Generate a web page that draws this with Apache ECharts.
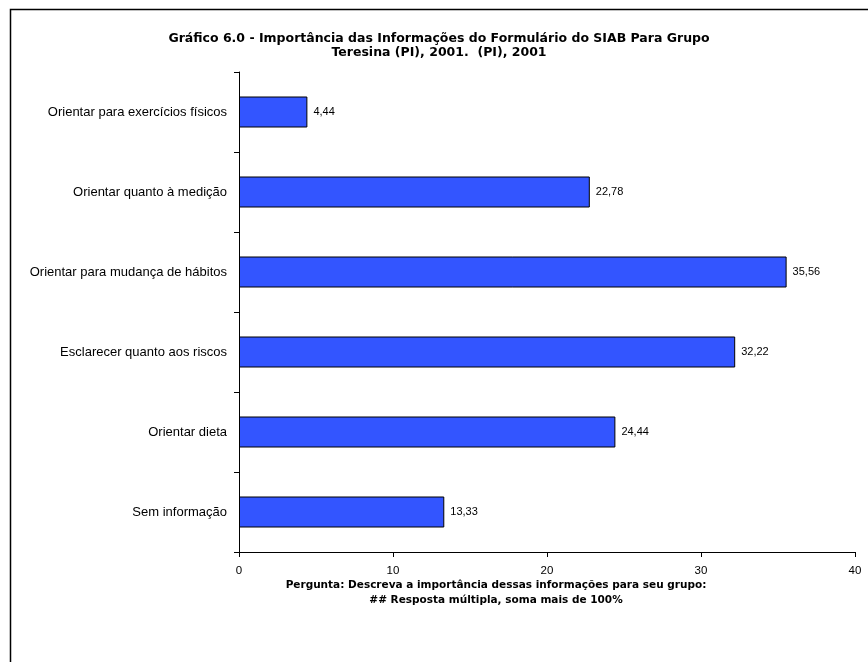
<!DOCTYPE html>
<html>
<head>
<meta charset="utf-8">
<script src="https://cdn.jsdelivr.net/npm/echarts@6/dist/echarts.min.js"></script>
<style>
  html, body { margin: 0; padding: 0; background: #fff; }
  #chart { width: 868px; height: 662px; }
</style>
</head>
<body>
<div id="chart"></div>
<script>
// Categories listed top to bottom
const categories = [
  'Orientar para exercícios físicos',
  'Orientar quanto à medição',
  'Orientar para mudança de hábitos',
  'Esclarecer quanto aos riscos',
  'Orientar dieta',
  'Sem informação'
];
const values = [4.44, 22.78, 35.56, 32.22, 24.44, 13.33];
const xTicks = { min: 0, max: 40, interval: 10 };

const titleLines = [
  'Gráfico 6.0 - Importância das Informações do Formulário do SIAB Para Grupo',
  'Teresina (PI), 2001.  (PI), 2001'
];
const noteLines = [
  'Pergunta: Descreva a importância dessas informações para seu grupo:',
  '## Resposta múltipla, soma mais de 100%'
];

const fmt = v => v.toFixed(2).replace('.', ',');
const font = 'Liberation Sans, Arial, sans-serif';
const boldFont = 'DejaVu Sans, Liberation Sans, sans-serif';

const chart = echarts.init(document.getElementById('chart'), null, { renderer: 'canvas' });
chart.setOption({
  backgroundColor: '#fff',
  animation: false,
  grid: { left: 239, right: 13, top: 72, bottom: 110, containLabel: false },
  xAxis: {
    type: 'value',
    min: xTicks.min, max: xTicks.max, interval: xTicks.interval,
    axisLine: { show: true, lineStyle: { color: '#000', width: 1 } },
    axisTick: { show: true, length: 5, lineStyle: { color: '#000' } },
    axisLabel: { color: '#000', fontFamily: font, fontSize: 11.5, margin: 13 },
    splitLine: { show: false }
  },
  yAxis: {
    type: 'category',
    data: categories,
    inverse: true,
    axisLine: { show: true, lineStyle: { color: '#000', width: 1 } },
    axisTick: { show: true, length: 5, alignWithLabel: false, lineStyle: { color: '#000' } },
    axisLabel: { color: '#000', fontFamily: font, fontSize: 13, margin: 12 },
    splitLine: { show: false }
  },
  series: [{
    type: 'bar',
    data: values,
    barWidth: 31,
    itemStyle: { color: '#3355ff', borderColor: '#000', borderWidth: 1 },
    label: {
      show: true, position: 'right', distance: 6,
      color: '#000', fontFamily: font, fontSize: 11,
      formatter: p => fmt(p.value)
    }
  }],
  graphic: [
    { type: 'polyline', shape: { points: [[10.5, 700], [10.5, 9.5], [900, 9.5]] },
      style: { stroke: '#000', lineWidth: 1.5, fill: null } },
    { type: 'text', x: 439, y: 32,
      style: { text: titleLines[0], align: 'center', fill: '#000',
               font: 'bold 12.5px ' + boldFont } },
    { type: 'text', x: 439, y: 46,
      style: { text: titleLines[1], align: 'center', fill: '#000',
               font: 'bold 12.5px ' + boldFont } },
    { type: 'text', x: 496, y: 580,
      style: { text: noteLines[0], align: 'center', fill: '#000',
               font: 'bold 10.5px ' + boldFont } },
    { type: 'text', x: 496, y: 595,
      style: { text: noteLines[1], align: 'center', fill: '#000',
               font: 'bold 10.5px ' + boldFont } }
  ]
});
</script>
</body>
</html>
